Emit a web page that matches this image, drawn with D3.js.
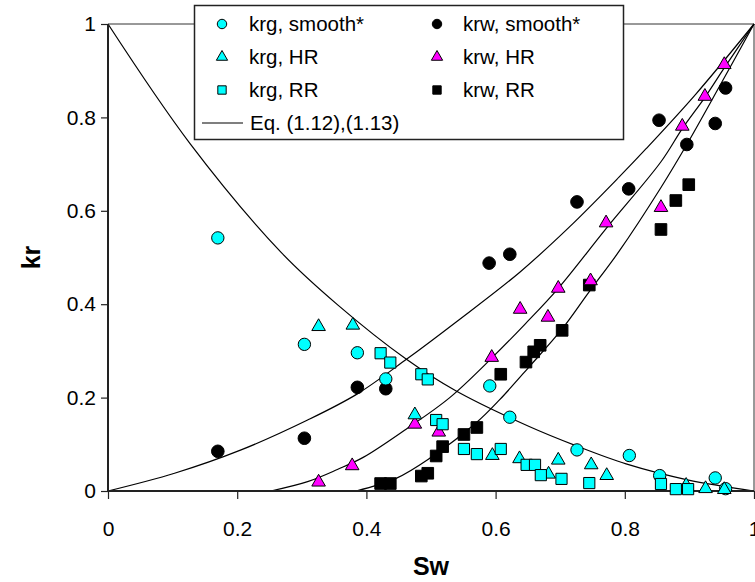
<!DOCTYPE html>
<html>
<head>
<meta charset="utf-8">
<script src="https://cdn.jsdelivr.net/npm/d3@7"></script>
<style>
  html, body { margin: 0; padding: 0; background: #fff; }
  svg { display: block; font-family: 'Liberation Sans', Arial, sans-serif; }
</style>
</head>
<body>
<svg id="chart" width="755" height="582"></svg>
<script>
// measured points, [Sw, kr]
const krgSmooth = [[0.170, 0.542], [0.304, 0.314], [0.386, 0.296], [0.430, 0.240], [0.591, 0.225],
  [0.622, 0.158], [0.726, 0.088], [0.807, 0.076], [0.854, 0.033], [0.940, 0.028], [0.956, 0.005]]
const krgHR = [[0.326, 0.352], [0.379, 0.355], [0.475, 0.163], [0.595, 0.076], [0.637, 0.069],
  [0.682, 0.036], [0.697, 0.066], [0.748, 0.056], [0.772, 0.033], [0.895, 0.012], [0.925, 0.005], [0.954, 0.003]]
const krgRR = [[0.422, 0.295], [0.437, 0.275], [0.485, 0.250], [0.495, 0.239], [0.508, 0.152],
  [0.518, 0.143], [0.551, 0.090], [0.571, 0.079], [0.608, 0.090], [0.648, 0.056], [0.661, 0.056],
  [0.670, 0.034], [0.702, 0.026], [0.745, 0.017], [0.856, 0.015], [0.879, 0.004], [0.898, 0.004]]
const krwSmooth = [[0.170, 0.085], [0.304, 0.113], [0.386, 0.222], [0.430, 0.219], [0.590, 0.488],
  [0.622, 0.507], [0.726, 0.619], [0.806, 0.647], [0.853, 0.794], [0.896, 0.742], [0.940, 0.787], [0.956, 0.863]]
const krwHR = [[0.326, 0.019], [0.378, 0.054], [0.475, 0.143], [0.512, 0.126], [0.594, 0.286],
  [0.638, 0.389], [0.681, 0.372], [0.697, 0.434], [0.747, 0.450], [0.771, 0.574], [0.856, 0.607],
  [0.889, 0.781], [0.924, 0.845], [0.954, 0.913]]
const krwRR = [[0.422, 0.016], [0.437, 0.016], [0.485, 0.032], [0.495, 0.038], [0.508, 0.075],
  [0.518, 0.095], [0.551, 0.121], [0.571, 0.136], [0.608, 0.250], [0.647, 0.276], [0.659, 0.298],
  [0.669, 0.312], [0.703, 0.344], [0.745, 0.441], [0.856, 0.560], [0.879, 0.622], [0.899, 0.656]]

// Eq. (1.12),(1.13) curves
const eqKrg = [[0, 1], [0.127, 0.744], [0.268, 0.511], [0.356, 0.398], [0.462, 0.282], [0.539, 0.214],
  [0.652, 0.138], [0.726, 0.096], [0.802, 0.058], [0.897, 0.024], [1, 0]]
const eqKrwSmooth = [[0, 0], [0.103, 0.038], [0.206, 0.088], [0.309, 0.152], [0.386, 0.208], [0.462, 0.282],
  [0.539, 0.362], [0.637, 0.468], [0.714, 0.565], [0.791, 0.672], [0.833, 0.733], [0.910, 0.850], [1, 1]]
const eqKrwHR = [[0.252, 0], [0.309, 0.020], [0.355, 0.046], [0.395, 0.072], [0.462, 0.133], [0.529, 0.200],
  [0.595, 0.286], [0.646, 0.358], [0.697, 0.434], [0.771, 0.562], [0.856, 0.705], [0.889, 0.776], [0.924, 0.843], [0.954, 0.906], [1, 1]]
const eqKrwRR = [[0.384, 0], [0.446, 0.027], [0.498, 0.070], [0.570, 0.146], [0.606, 0.195], [0.652, 0.266],
  [0.703, 0.347], [0.745, 0.427], [0.791, 0.513], [0.856, 0.650], [0.896, 0.742], [0.946, 0.865], [1, 1]]

const xTicks = [0, 0.2, 0.4, 0.6, 0.8, 1]
const yTicks = [0, 0.2, 0.4, 0.6, 0.8, 1]
const xTickLabels = ['0', '0.2', '0.4', '0.6', '0.8', '1']
const yTickLabels = ['0', '0.2', '0.4', '0.6', '0.8', '1']

const legendItems = [
  { label: 'krg, smooth*', shape: 'circle', fill: '#00ffff', col: 0, row: 0 },
  { label: 'krg, HR', shape: 'triangle', fill: '#00ffff', col: 0, row: 1 },
  { label: 'krg, RR', shape: 'square', fill: '#00ffff', col: 0, row: 2 },
  { label: 'Eq. (1.12),(1.13)', shape: 'line', fill: 'none', col: 0, row: 3 },
  { label: 'krw, smooth*', shape: 'circle', fill: '#000000', col: 1, row: 0 },
  { label: 'krw, HR', shape: 'triangle', fill: '#ff00ff', col: 1, row: 1 },
  { label: 'krw, RR', shape: 'square', fill: '#000000', col: 1, row: 2 }
]

const plot = { left: 108, right: 754, top: 24, bottom: 491 }

const svg = d3.select('#chart')

const x = d3.scaleLinear().domain([0, 1]).range([plot.left, plot.right])
const y = d3.scaleLinear().domain([0, 1]).range([plot.bottom, plot.top])

// frame top / right
svg.append('path')
  .attr('d', `M${plot.left},${plot.top}H${plot.right}V${plot.bottom}`)
  .attr('fill', 'none')
  .attr('stroke', '#333')
  .attr('stroke-width', 1)

// curves
const line = d3.line()
  .x(d => x(d[0]))
  .y(d => y(d[1]))
  .curve(d3.curveCatmullRom.alpha(0.5))

const curves = [eqKrg, eqKrwSmooth, eqKrwHR, eqKrwRR]
svg.append('g')
  .selectAll('path')
  .data(curves)
  .join('path')
  .attr('d', line)
  .attr('fill', 'none')
  .attr('stroke', '#000')
  .attr('stroke-width', 1.2)

// axes
const xAxis = d3.axisBottom(x)
  .tickValues(xTicks)
  .tickFormat((d, i) => xTickLabels[i])
  .tickSize(8)
  .tickPadding(22)
const yAxis = d3.axisLeft(y)
  .tickValues(yTicks)
  .tickFormat((d, i) => yTickLabels[i])
  .tickSize(7)
  .tickPadding(5)

const gx = svg.append('g')
  .attr('transform', `translate(0,${plot.bottom})`)
  .call(xAxis)
const gy = svg.append('g')
  .attr('transform', `translate(${plot.left},0)`)
  .call(yAxis)

for (const g of [gx, gy]) {
  g.select('.domain').attr('stroke', '#222').attr('stroke-width', 2)
  g.selectAll('.tick line').attr('stroke', '#222').attr('stroke-width', 1.2)
  g.selectAll('.tick text')
    .attr('fill', '#000')
    .style('font-size', '21px')
    .style('font-family', "'Liberation Sans', Arial, sans-serif")
}
gx.select('.domain').attr('d', `M${plot.left},0H${plot.right}`)
gy.select('.domain').attr('d', `M0,${plot.bottom}V${plot.top}`)

// axis titles
svg.append('text')
  .attr('x', (plot.left + plot.right) / 2)
  .attr('y', 575)
  .attr('text-anchor', 'middle')
  .attr('font-weight', 'bold')
  .attr('font-size', 25)
  .text('Sw')

svg.append('text')
  .attr('transform', `translate(40,${(plot.top + plot.bottom) / 2}) rotate(-90)`)
  .attr('text-anchor', 'middle')
  .attr('font-weight', 'bold')
  .attr('font-size', 25)
  .text('kr')

// markers
const symbolFor = { circle: d3.symbolCircle, triangle: d3.symbolTriangle, square: d3.symbolSquare }

function drawSeries(data, shape, fill, size) {
  svg.append('g')
    .selectAll('path')
    .data(data)
    .join('path')
    .attr('transform', d => `translate(${x(d[0])},${y(d[1])})`)
    .attr('d', d3.symbol().type(symbolFor[shape]).size(size))
    .attr('fill', fill)
    .attr('stroke', '#000')
    .attr('stroke-width', 1)
}

drawSeries(krwSmooth, 'circle', '#000', 125)
drawSeries(krwRR, 'square', '#000', 135)
drawSeries(krgSmooth, 'circle', '#00ffff', 120)
drawSeries(krwHR, 'triangle', '#ff00ff', 80)
drawSeries(krgHR, 'triangle', '#00ffff', 80)
drawSeries(krgRR, 'square', '#00ffff', 125)

// legend
const legend = svg.append('g')
legend.append('rect')
  .attr('x', 194.5)
  .attr('y', 5.5)
  .attr('width', 429)
  .attr('height', 134)
  .attr('fill', '#fff')
  .attr('stroke', '#222')
  .attr('stroke-width', 1.5)

const colMarkerX = [222, 437]
const colTextX = [249, 463]
const rowY = [24, 57, 90, 123]

legendItems.forEach(item => {
  const cy = rowY[item.row]
  if (item.shape === 'line') {
    legend.append('line')
      .attr('x1', 202).attr('x2', 243)
      .attr('y1', cy).attr('y2', cy)
      .attr('stroke', '#000')
      .attr('stroke-width', 1.2)
  } else {
    legend.append('path')
      .attr('transform', `translate(${colMarkerX[item.col]},${cy})`)
      .attr('d', d3.symbol().type(symbolFor[item.shape]).size(item.shape === 'triangle' ? 55 : 70))
      .attr('fill', item.fill)
      .attr('stroke', '#000')
      .attr('stroke-width', 1)
  }
  legend.append('text')
    .attr('x', item.shape === 'line' ? 250 : colTextX[item.col])
    .attr('y', cy)
    .attr('dy', '0.36em')
    .attr('font-size', 20.5)
    .text(item.label)
})
</script>
</body>
</html>
